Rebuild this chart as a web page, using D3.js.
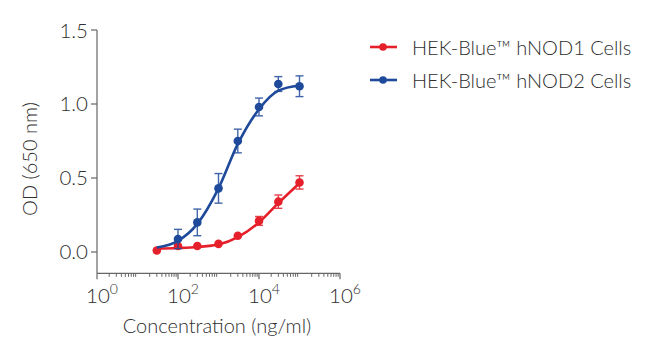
<!DOCTYPE html>
<html><head><meta charset="utf-8">
<script src="https://cdn.jsdelivr.net/npm/d3@7"></script>
<style>
body{margin:0;background:#fff;}
text{font-family:Lato,"Open Sans",sans-serif;font-weight:300;fill:#2e2e2e;}
</style></head>
<body><svg id="c" width="650" height="355"></svg>
<script>
const conc = [30, 100, 300, 1000, 3000, 10000, 30000, 100000];
const nod1Values = [0.01, 0.04, 0.04, 0.055, 0.11, 0.21, 0.34, 0.47];
const nod1Err = [0, 0, 0, 0, 0, 0.03, 0.045, 0.045];
const nod2Conc = [100, 300, 1000, 3000, 10000, 30000, 100000];
const nod2Values = [0.088, 0.20, 0.43, 0.75, 0.98, 1.135, 1.12];
const nod2Err = [0.065, 0.09, 0.1, 0.08, 0.06, 0.05, 0.07];
const fitConc = [30, 100, 300, 1000, 3000, 10000, 30000, 100000];
const nod1Fit = [0.022, 0.027, 0.034, 0.05, 0.10, 0.20, 0.33, 0.465];
const nod2Fit = [0.03, 0.075, 0.19, 0.43, 0.73, 0.965, 1.09, 1.125];
const yTicks = [0.0, 0.5, 1.0, 1.5];
const xTickExps = [0, 2, 4, 6];
const seriesNames = ["HEK-Blue\u2122 hNOD1 Cells", "HEK-Blue\u2122 hNOD2 Cells"];
const colors = ["#e5202a", "#1f4a9b"];

const svg = d3.select("#c");
const x = d3.scaleLog().domain([1, 1e6]).range([97, 340]);
const y = d3.scaleLinear().domain([-0.144, 1.5]).range([273.3, 30]);

// axes
const gx = svg.append("g").attr("transform", "translate(0,273.3)");
const minor = [];
for (let e = 0; e < 6; e++) for (let k = 2; k <= 9; k++) minor.push(k * Math.pow(10, e));
gx.append("line").attr("x1", x(1)).attr("x2", x(1e6)).attr("stroke", "#666").attr("stroke-width", 1.2);
gx.selectAll(".mn").data(minor).join("line").attr("x1", d => x(d)).attr("x2", d => x(d))
  .attr("y1", 0).attr("y2", 3.5).attr("stroke", "#666").attr("stroke-width", 1);
gx.selectAll(".mj").data(xTickExps).join("line").attr("x1", d => x(Math.pow(10, d))).attr("x2", d => x(Math.pow(10, d)))
  .attr("y1", 0).attr("y2", 6).attr("stroke", "#666").attr("stroke-width", 1.2);
const xl = gx.selectAll(".xl").data(xTickExps).join("text")
  .attr("x", d => x(Math.pow(10, d)) + 5).attr("y", 29.5).attr("text-anchor", "middle").style("font-size", "20.5px");
xl.append("tspan").text("10");
xl.append("tspan").attr("dy", -8.5).style("font-size", "14px").text(d => d);

const gy = svg.append("g");
gy.append("line").attr("x1", 97).attr("x2", 97).attr("y1", y(1.5)).attr("y2", 273.3).attr("stroke", "#666").attr("stroke-width", 1.2);
gy.selectAll(".yt").data(yTicks).join("line").attr("x1", 91).attr("x2", 97).attr("y1", d => y(d)).attr("y2", d => y(d))
  .attr("stroke", "#666").attr("stroke-width", 1.2);
gy.selectAll(".yl").data(yTicks).join("text").attr("x", 88).attr("y", d => y(d) + 7.5)
  .attr("text-anchor", "end").style("font-size", "20.5px").text(d => d.toFixed(1));

svg.append("text").attr("transform", "translate(37,159) rotate(-90)").attr("text-anchor", "middle")
  .style("font-size", "20px").text("OD (650 nm)");
svg.append("text").attr("x", 217).attr("y", 333).attr("text-anchor", "middle")
  .style("font-size", "20px").text("Concentration (ng/ml)");

const line = d3.line().x(d => x(d[0])).y(d => y(d[1])).curve(d3.curveMonotoneX);
const series = [
  {c: conc, v: nod1Values, e: nod1Err, fit: nod1Fit, col: colors[0]},
  {c: nod2Conc, v: nod2Values, e: nod2Err, fit: nod2Fit, col: colors[1]}
];
series.forEach(s => {
  const g = svg.append("g");
  g.append("path").attr("d", line(fitConc.map((c, i) => [c, s.fit[i]])))
    .attr("fill", "none").attr("stroke", s.col).attr("stroke-width", 2.6);
  const pts = s.c.map((c, i) => ({c, v: s.v[i], e: s.e[i]}));
  const eb = g.selectAll(".eb").data(pts.filter(p => p.e > 0)).join("g").attr("stroke", s.col)
    .attr("stroke-width", 1.4).attr("opacity", 0.85);
  eb.append("line").attr("x1", d => x(d.c)).attr("x2", d => x(d.c)).attr("y1", d => y(d.v - d.e)).attr("y2", d => y(d.v + d.e));
  eb.append("line").attr("x1", d => x(d.c) - 4).attr("x2", d => x(d.c) + 4).attr("y1", d => y(d.v - d.e)).attr("y2", d => y(d.v - d.e));
  eb.append("line").attr("x1", d => x(d.c) - 4).attr("x2", d => x(d.c) + 4).attr("y1", d => y(d.v + d.e)).attr("y2", d => y(d.v + d.e));
  g.selectAll(".pt").data(pts).join("circle").attr("cx", d => x(d.c)).attr("cy", d => y(d.v)).attr("r", 4.3).attr("fill", s.col);
});

// legend
const lg = svg.selectAll(".lg").data(seriesNames).join("g").attr("transform", (d, i) => `translate(0,${47 + i * 33})`);
lg.append("line").attr("x1", 370).attr("x2", 397).attr("stroke", (d, i) => colors[i]).attr("stroke-width", 2.6);
lg.append("circle").attr("cx", 383).attr("r", 3.8).attr("fill", (d, i) => colors[i]);
lg.append("text").attr("x", 412).attr("y", 7.5).style("font-size", "20px").text(d => d);
</script></body></html>
